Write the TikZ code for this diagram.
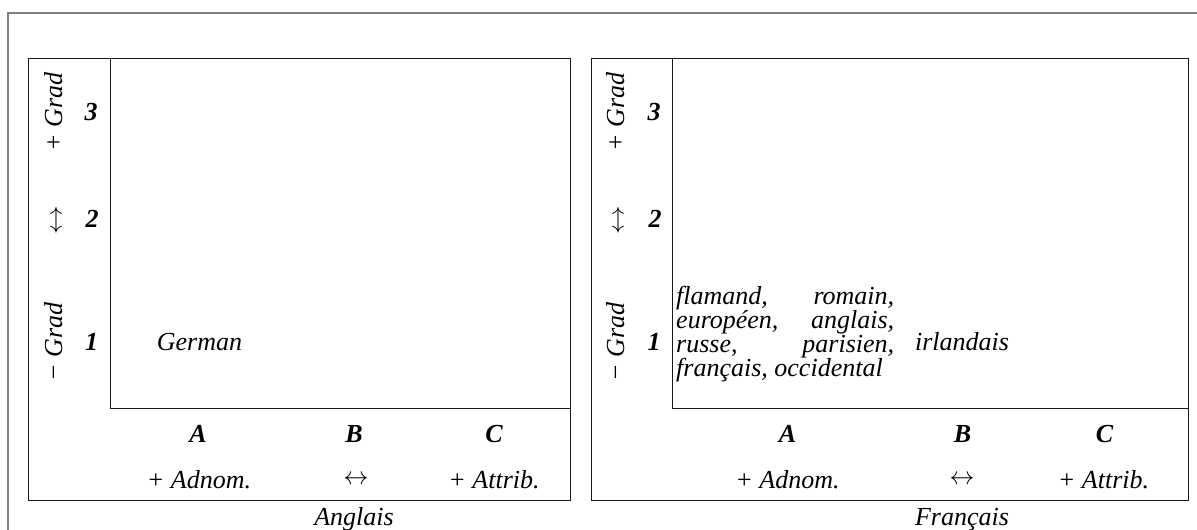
\documentclass[tikz,border=0pt]{standalone}
\usepackage{fontspec}
\setmainfont{Liberation Serif}
\newcommand\fsz{\fontsize{26pt}{24.3pt}\selectfont\lineskiplimit=-100pt }
\newcommand\arrsz{\fontsize{23pt}{23pt}\selectfont}
\begin{document}
\begin{tikzpicture}[x=1pt,y=-1pt,
  lbl/.style={font=\fsz\itshape, inner sep=0pt, anchor=base},
  num/.style={font=\fsz\bfseries\itshape, inner sep=0pt, anchor=base},
  vlbl/.style={font=\fsz\itshape, inner sep=0pt, anchor=base, rotate=90},
  arr/.style={font=\arrsz, inner sep=0pt, anchor=center},
  panel/.style={draw=black!90, line width=1pt},
  outerframe/.style={draw=black!50, line width=1.5pt}]
\useasboundingbox (0,0) rectangle (1197,530);
% outer frame
\draw[outerframe] (8,530) -- (8,13) -- (1197,13);
% left panel
\draw[panel] (28,58) rectangle (570,500);
\draw[panel] (110,58) -- (110,408) -- (570,408);
% right panel
\draw[panel] (591,58) rectangle (1188,500);
\draw[panel] (672,58) -- (672,408) -- (1188,408);

% left panel labels
\node[vlbl] (lgp) at (62,112) {+ Grad};
\node[num] (l3) at (91,120) {3};
\node[arr] (lud) at (56,220) {$\updownarrow$};
\node[num] (l2) at (92,227) {2};
\node[vlbl] (lgm) at (62,342) {− Grad};
\node[num] (l1) at (91.5,350) {1};
\node[lbl] (german) at (199.5,350) {German};
\node[num] (lA) at (198,442) {A};
\node[num] (lB) at (354,442) {B};
\node[num] (lC) at (494,442) {C};
\node[lbl] (ladn) at (199,488) {+ Adnom.};
\node[arr] (llr) at (356,480) {$\leftrightarrow$};
\node[lbl] (latt) at (494,488) {+ Attrib.};
\node[lbl] (anglais) at (354,525) {Anglais};

% right panel labels
\node[vlbl] (rgp) at (624,112) {+ Grad};
\node[num] (r3) at (654,120) {3};
\node[arr] (rud) at (618,220) {$\updownarrow$};
\node[num] (r2) at (655,227) {2};
\node[vlbl] (rgm) at (624,342) {− Grad};
\node[num] (r1) at (654,350) {1};
\node[lbl, anchor=base west] (block) at (676,304) {\vtop{\hsize=218pt
  \hbox to\hsize{flamand,\hfill romain,}
  \hbox to\hsize{européen,\hfill anglais,}
  \hbox to\hsize{russe,\hfill parisien,}
  \hbox{français, occidental}}};
\node[lbl] (irl) at (962,350) {irlandais};
\node[num] (rA) at (787.5,442) {A};
\node[num] (rB) at (962.5,442) {B};
\node[num] (rC) at (1104.5,442) {C};
\node[lbl] (radn) at (787.5,488) {+ Adnom.};
\node[arr] (rlr) at (962,480) {$\leftrightarrow$};
\node[lbl] (ratt) at (1103.5,488) {+ Attrib.};
\node[lbl] (francais) at (962,525) {Français};
\end{tikzpicture}
\end{document}
